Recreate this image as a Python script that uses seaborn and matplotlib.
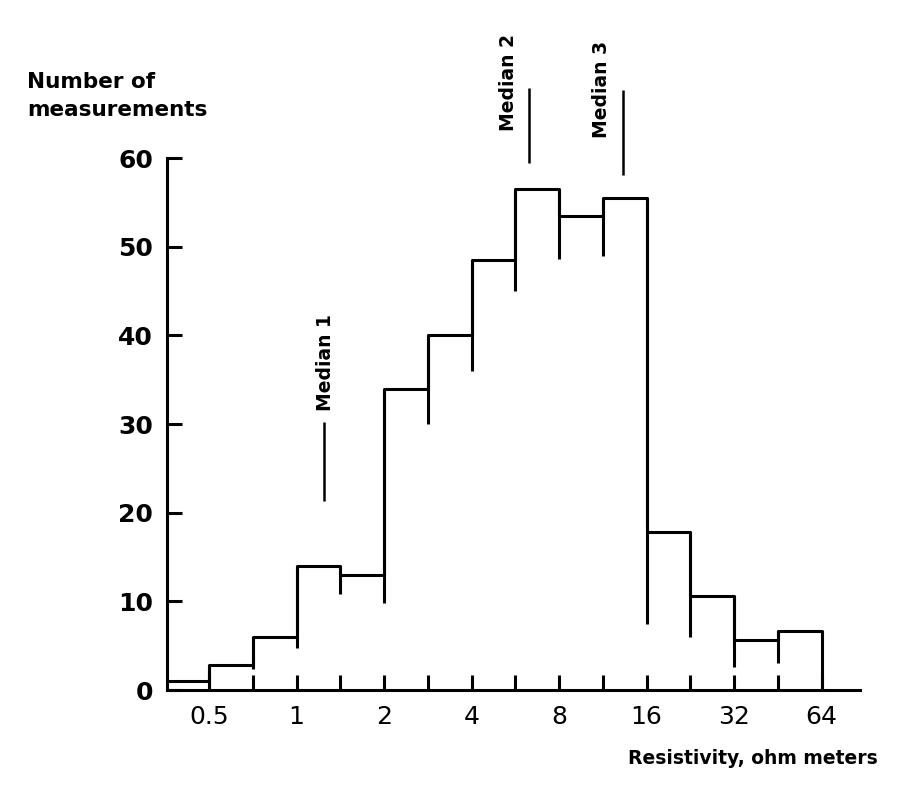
import numpy as np
import pandas as pd
import matplotlib
matplotlib.use('Agg')
import matplotlib.pyplot as plt
import seaborn as sns

# ==========================================
# DADOS
# ==========================================
# limites das classes em log2(resistividade), meia oitava cada
BIN_EDGES_LOG2 = [-1.5, -1.0, -0.5, 0.0, 0.5, 1.0, 1.5, 2.0,
                  2.5, 3.0, 3.5, 4.0, 4.5, 5.0, 5.5, 6.0]
COUNTS = [1, 2.8, 6, 14, 13, 34, 40, 48.5, 56.5, 53.5, 55.5, 17.8, 10.6, 5.6, 6.7]
# ponto mais baixo de cada linha vertical entre classes (limites -1 ... 6)
EDGE_BOTTOMS = [0, 2.4, 4.7, 10.8, 9.8, 30, 36, 45, 48.6, 48.9, 7.5, 6.0, 2.6, 3.0, 0]

TICK_VALUES = [0.5, 1, 2, 4, 8, 16, 32, 64]
TICK_LABELS = ['0.5', '1', '2', '4', '8', '16', '32', '64']
Y_TICKS = [0, 10, 20, 30, 40, 50, 60]
Y_LABELS = ['0', '10', '20', '30', '40', '50', '60']

MEDIAN_LABELS = ['Median 1', 'Median 2', 'Median 3']
MEDIAN_VALUES = [1.24, 6.33, 13.3]

# ==========================================
# LAYOUT
# ==========================================
MEDIAN_LINE_SPAN = [(21.3, 30.2), (59.4, 67.9), (58.1, 67.7)]
MEDIAN_TEXT_POS = [(0.02, 31.5), (-0.24, 63.0), (-0.25, 62.2)]  # (dx em log2, y)
LW = 2.2

sns.set_theme(style='white')
plt.rcParams['font.family'] = ['DejaVu Sans']

fig = plt.figure(figsize=(8.97, 7.96), dpi=100)
ax = fig.add_axes([167 / 897, 1 - 690 / 796, 693 / 897, 532 / 796])

edges = np.array(BIN_EDGES_LOG2)
counts = np.array(COUNTS)
df = pd.DataFrame({'x': (edges[:-1] + edges[1:]) / 2, 'n': counts})

sns.histplot(data=df, x='x', weights='n', bins=list(edges), element='step', fill=False,
             color='black', linewidth=LW, ax=ax)

# linhas verticais entre as classes, descendo abaixo da classe mais baixa
tops = np.maximum(counts, np.append(counts[1:], 0))
ax.vlines(edges[1:], EDGE_BOTTOMS, tops, color='black', linewidth=LW, clip_on=False)

# medianas
for lab, val, (lo, hi), (dx, ty) in zip(MEDIAN_LABELS, MEDIAN_VALUES,
                                        MEDIAN_LINE_SPAN, MEDIAN_TEXT_POS):
    xm = np.log2(val)
    ax.vlines(xm, lo, hi, color='black', linewidth=1.8, clip_on=False)
    ax.text(xm + dx, ty, lab, rotation=90, ha='center', va='bottom',
            fontsize=13.5, fontweight='bold', color='black', clip_on=False)

ax.set_xlim(-1.48, 6.44)
ax.set_ylim(0, 60)

ax.set_xticks(np.log2(TICK_VALUES))
ax.set_xticklabels(TICK_LABELS, fontsize=18)
ax.set_xticks(np.arange(-0.5, 6.0, 1.0), minor=True)
ax.set_yticks(Y_TICKS)
ax.set_yticklabels(Y_LABELS, fontsize=18, fontweight='bold')

ax.tick_params(axis='both', which='both', direction='in', length=11, width=LW,
               color='black', labelcolor='black')
ax.tick_params(axis='x', which='both', bottom=True)
ax.tick_params(axis='y', which='major', left=True, pad=10)
ax.tick_params(axis='x', which='major', pad=11)

for side in ['top', 'right']:
    ax.spines[side].set_visible(False)
for side in ['left', 'bottom']:
    ax.spines[side].set_color('black')
    ax.spines[side].set_linewidth(LW)

ax.set_xlabel('')
ax.set_ylabel('')
ax.grid(False)

fig.text(27 / 897, 1 - 72 / 796, 'Number of\nmeasurements', ha='left', va='top',
         fontsize=15.5, fontweight='bold', linespacing=1.5, color='black')
fig.text(878 / 897, 1 - 758 / 796, 'Resistivity, ohm meters', ha='right', va='center',
         fontsize=13.5, fontweight='bold', color='black')

fig.savefig('out.png', dpi=100, facecolor='white')
